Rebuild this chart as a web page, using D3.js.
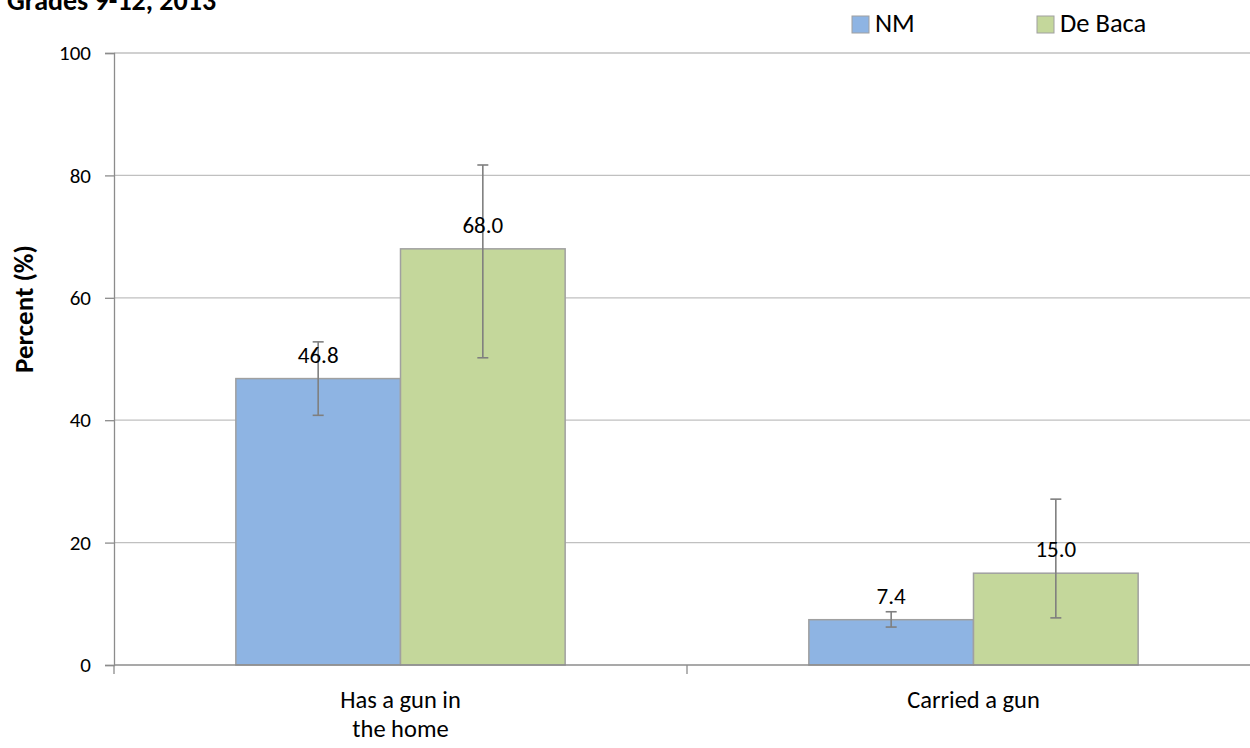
<!DOCTYPE html>
<html><head><meta charset="utf-8">
<script src="https://cdn.jsdelivr.net/npm/d3@7"></script>
<style>body{margin:0;background:#fff}svg{display:block;font-family:Carlito,Calibri,Lato,"Open Sans",sans-serif}</style>
</head><body><svg id="c" width="1250" height="748"></svg>
<script>
const categories = ["Has a gun in the home", "Carried a gun"];
const categoryLines = [["Has a gun in", "the home"], ["Carried a gun"]];
const seriesNames = ["NM", "De Baca"];
const nmValues = [46.8, 7.4];
const nmLow = [40.8, 6.2];
const nmHigh = [52.8, 8.7];
const dbValues = [68.0, 15.0];
const dbLow = [50.2, 7.7];
const dbHigh = [81.7, 27.1];
const yTicks = [0, 20, 40, 60, 80, 100];
const colors = ["#8eb4e3", "#c4d79b"];

(function () {
const svg = d3.select("#c");
const pLeft = 114, pRight = 1260, pTop = 53, pBottom = 665;
const x = d3.scaleBand().domain(categories).range([pLeft, pRight]).paddingInner(0).paddingOuter(0);
const inner = d3.scaleBand().domain(seriesNames).range([0, x.bandwidth()]).paddingOuter(0.74).paddingInner(0);
const y = d3.scaleLinear().domain([0, 100]).range([pBottom, pTop]);

// gridlines
svg.append("g").selectAll("line").data(yTicks.filter(d => d > 0)).join("line")
  .attr("x1", pLeft).attr("x2", 1250).attr("y1", d => y(d)).attr("y2", d => y(d))
  .attr("stroke", "#c0c0c0").attr("stroke-width", 1.3);

// y axis
const ya = svg.append("g").attr("transform", `translate(${pLeft},0)`)
  .call(d3.axisLeft(y).tickValues(yTicks).tickSize(9).tickPadding(14));
ya.select(".domain").attr("stroke", "#8c8c8c").attr("stroke-width", 1.3);
ya.selectAll(".tick line").attr("stroke", "#8c8c8c").attr("stroke-width", 1.3);
ya.selectAll(".tick text").attr("font-size", 21).attr("fill", "#000").attr("font-family", "Carlito,Calibri,Lato,sans-serif");

const series = [
  {name: seriesNames[0], vals: nmValues, lo: nmLow, hi: nmHigh, color: colors[0]},
  {name: seriesNames[1], vals: dbValues, lo: dbLow, hi: dbHigh, color: colors[1]}
];

const data = [];
series.forEach(s => categories.forEach((c, i) => data.push({cat: c, s: s.name, v: s.vals[i], lo: s.lo[i], hi: s.hi[i], color: s.color})));

const bx = d => x(d.cat) + inner(d.s);
svg.append("g").selectAll("rect").data(data).join("rect")
  .attr("x", bx).attr("width", inner.bandwidth())
  .attr("y", d => y(d.v)).attr("height", d => y(0) - y(d.v))
  .attr("fill", d => d.color).attr("stroke", "#a0a0a0").attr("stroke-width", 1.5);

// x axis
svg.append("line").attr("x1", pLeft).attr("x2", 1250).attr("y1", y(0)).attr("y2", y(0))
  .attr("stroke", "#8c8c8c").attr("stroke-width", 1.3);
svg.append("g").selectAll("line").data(categories).join("line")
  .attr("x1", d => x(d)).attr("x2", d => x(d)).attr("y1", y(0)).attr("y2", y(0) + 9)
  .attr("stroke", "#8c8c8c").attr("stroke-width", 1.3);

// error bars
const eb = svg.append("g").attr("stroke", "#7f7f7f").attr("stroke-width", 1.6);
data.forEach(d => {
  const cx = bx(d) + inner.bandwidth() / 2;
  eb.append("line").attr("x1", cx).attr("x2", cx).attr("y1", y(d.hi)).attr("y2", y(d.lo));
  eb.append("line").attr("x1", cx - 5.5).attr("x2", cx + 5.5).attr("y1", y(d.hi)).attr("y2", y(d.hi));
  eb.append("line").attr("x1", cx - 5.5).attr("x2", cx + 5.5).attr("y1", y(d.lo)).attr("y2", y(d.lo));
});

// value labels
svg.append("g").selectAll("text").data(data).join("text")
  .attr("x", d => bx(d) + inner.bandwidth() / 2).attr("y", d => y(d.v) - 16)
  .attr("text-anchor", "middle").attr("font-size", 23).attr("fill", "#000")
  .text(d => d.v.toFixed(1));

// category labels
categories.forEach((c, i) => {
  const t = svg.append("text").attr("y", 708)
    .attr("text-anchor", "middle").attr("font-size", 24.5).attr("fill", "#000");
  categoryLines[i].forEach((ln, j) => t.append("tspan").attr("x", x(c) + x.bandwidth() / 2).attr("dy", j === 0 ? 0 : 29).text(ln));
});

// y axis title
svg.append("text").attr("transform", "translate(33,309) rotate(-90)")
  .attr("text-anchor", "middle").attr("font-size", 27).attr("font-weight", "bold").text("Percent (%)");

// title (partially cut off at the top, as in the source)
svg.append("text").attr("x", 7).attr("y", 10).attr("font-size", 28).attr("font-weight", "bold").text("Grades 9-12, 2013");

// legend
const lg = svg.append("g");
const legX = [852, 1037];
series.forEach((s, i) => {
  lg.append("rect").attr("x", legX[i]).attr("y", 16).attr("width", 17).attr("height", 17)
    .attr("fill", s.color).attr("stroke", "#a0a0a0").attr("stroke-width", 1);
  lg.append("text").attr("x", legX[i] + 23).attr("y", 32).attr("font-size", 26.5).text(s.name);
});
})();
</script></body></html>
